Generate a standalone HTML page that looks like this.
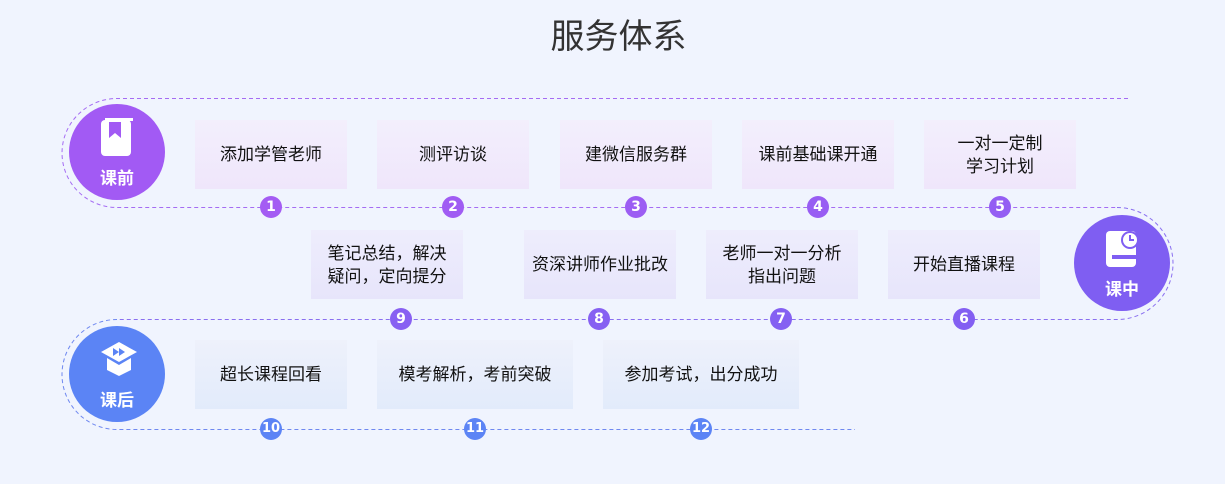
<!DOCTYPE html>
<html><head><meta charset="utf-8"><style>
*{margin:0;padding:0;box-sizing:border-box}
body{width:1225px;height:484px;background:#f0f4fe;position:relative;overflow:hidden;font-family:"Liberation Sans","Noto Sans CJK SC",sans-serif;color:#222}
.t{position:absolute;left:6px;width:1225px;top:9px;text-align:center;font-size:34px;color:#333}
.bx{position:absolute;height:69px;display:flex;align-items:center;justify-content:center;text-align:center;font-size:17px;line-height:23px;color:#111}
.p{background:linear-gradient(#f3effc,#efe6fb)}
.v{background:linear-gradient(#eeedfc,#e7e5fb)}
.b{background:linear-gradient(#eef1fb,#e2ebfb)}
.bd{position:absolute;width:22px;height:22px;border-radius:50%;color:#fff;font-weight:bold;font-size:14px;line-height:22px;text-align:center;font-family:"DejaVu Sans",sans-serif}
.c{position:absolute;width:96px;height:96px;border-radius:50%;color:#fff;font-weight:bold;font-size:17px;text-align:center}
.c span{position:absolute;left:0;right:0;top:60px}
.c svg{position:absolute;left:30px;top:14px}
</style></head><body>
<div class="t">服务体系</div>
<svg style="position:absolute;left:0;top:0" width="1225" height="484" fill="none" stroke-width="1" stroke-dasharray="4 3">
<path d="M1128 98.5H117A55 54.5 0 0 0 117 207.5H1117" stroke="#a56cf3"/>
<path d="M1117 207.5A56 56 0 0 1 1117 319.5H117" stroke="#8a6ff0"/>
<path d="M117 319.5A55 55 0 0 0 117 429.5H855" stroke="#6f88f0"/>
</svg>

<div class="c" style="left:69px;top:104px;background:#a25af4"><svg width="36" height="40" viewBox="0 0 36 40"><rect x="2" y="2" width="30" height="36" rx="4" fill="#fff"/><rect x="6" y="0" width="28" height="3" fill="#fff"/><path d="M10 4v16l6-5 6 5V4z" fill="#a25af4"/></svg><span>课前</span></div>
<div class="c" style="left:1074px;top:215px;background:#7f5ef2"><svg width="36" height="40" viewBox="0 0 36 40"><rect x="2" y="2" width="30" height="36" rx="4" fill="#fff"/><rect x="8" y="26" width="26" height="4" fill="#7f5ef2"/><circle cx="26" cy="11" r="9" fill="#7f5ef2"/><circle cx="26" cy="11" r="7" fill="#fff"/><path d="M26 6v5h4" stroke="#7f5ef2" stroke-width="2" fill="none"/></svg><span>课中</span></div>
<div class="c" style="left:69px;top:326px;background:#5b84f5"><svg width="40" height="40" viewBox="0 0 40 40"><path d="M20 2 38 12 20 22 2 12z" fill="#fff"/><path d="M8 18v12l12 6 12-6V18l-12 7z" fill="#fff"/><path d="M14 8l6 4-6 4zM20 8l6 4-6 4z" fill="#5b84f5"/></svg><span>课后</span></div>

<div class="bx p" style="left:195px;top:120px;width:152px">添加学管老师</div>
<div class="bx p" style="left:377px;top:120px;width:152px">测评访谈</div>
<div class="bx p" style="left:560px;top:120px;width:152px">建微信服务群</div>
<div class="bx p" style="left:742px;top:120px;width:152px">课前基础课开通</div>
<div class="bx p" style="left:924px;top:120px;width:152px">一对一定制<br>学习计划</div>

<div class="bx v" style="left:311px;top:230px;width:152px">笔记总结，解决<br>疑问，定向提分</div>
<div class="bx v" style="left:524px;top:230px;width:152px">资深讲师作业批改</div>
<div class="bx v" style="left:706px;top:230px;width:152px">老师一对一分析<br>指出问题</div>
<div class="bx v" style="left:888px;top:230px;width:152px">开始直播课程</div>

<div class="bx b" style="left:195px;top:340px;width:152px">超长课程回看</div>
<div class="bx b" style="left:377px;top:340px;width:196px">模考解析，考前突破</div>
<div class="bx b" style="left:603px;top:340px;width:196px">参加考试，出分成功</div>

<div class="bd" style="left:260px;top:196px;background:#a45cf3">1</div>
<div class="bd" style="left:442px;top:196px;background:#a05cf3">2</div>
<div class="bd" style="left:625px;top:196px;background:#9c5df3">3</div>
<div class="bd" style="left:807px;top:196px;background:#985df3">4</div>
<div class="bd" style="left:989px;top:196px;background:#945ef3">5</div>
<div class="bd" style="left:953px;top:308px;background:#835ff2">6</div>
<div class="bd" style="left:770px;top:308px;background:#8460f2">7</div>
<div class="bd" style="left:588px;top:308px;background:#8660f2">8</div>
<div class="bd" style="left:390px;top:308px;background:#8860f2">9</div>
<div class="bd" style="left:260px;top:418px;background:#5c84f5;font-size:13px">10</div>
<div class="bd" style="left:464px;top:418px;background:#5c84f5;font-size:13px">11</div>
<div class="bd" style="left:690px;top:418px;background:#5c84f5;font-size:13px">12</div>
</body></html>
